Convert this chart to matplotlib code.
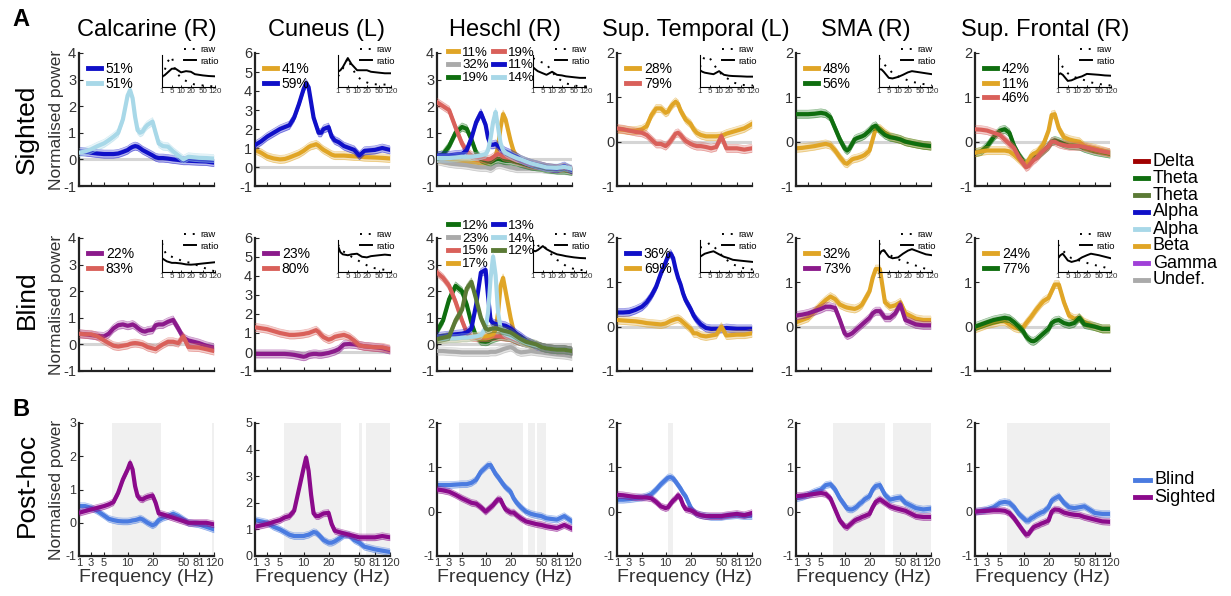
import numpy as np
import matplotlib.pyplot as plt
from matplotlib.lines import Line2D

plt.rcParams['font.family'] = ['Liberation Sans', 'DejaVu Sans']
plt.rcParams['axes.unicode_minus'] = False

# frequency grid (Hz) on which every spectrum below is sampled
freqs = [1, 2, 3, 4, 5, 6, 7, 8, 9, 10, 11, 12, 13, 14, 15, 16, 17, 18, 20, 23, 26, 30, 35, 40, 45, 50, 60, 81, 100, 120]
tick_hz = [1, 3, 5, 10, 20, 50, 81, 120]
tick_at = [0, 0.09, 0.185, 0.36, 0.545, 0.773, 0.888, 1.0]   # axis spacing of the frequency bins
inset_freqs = [1, 2, 3, 5, 7, 10, 15, 20, 30, 50, 80, 120]
inset_ticks = [1, 5, 10, 20, 50, 120]

titles = ['Calcarine (R)', 'Cuneus (L)', 'Heschl (R)', 'Sup. Temporal (L)', 'SMA (R)', 'Sup. Frontal (R)']
ylims_a = [(-1, 4), (-1, 6), (-1, 4), (-1, 2), (-1, 2), (-1, 2)]
ylims_b = [(-1, 3), (0, 5), (-1, 2), (-1, 2), (-1, 2), (-1, 2)]

# ---- A: sighted ----
calc_s_alpha = [.3, .28, .25, .22, .2, .2, .2, .22, .28, .35, .42, .47, .5, .48, .42, .35, .3, .25, .15, .08, .05, .05, .03, 0, -.02, -.05, -.05, -.07, -.08, -.12]
calc_s_alpha2 = [.25, .3, .38, .5, .6, .72, .85, 1.0, 1.5, 2.4, 2.6, 2.3, 1.6, 1.1, 1.0, 1.05, 1.2, 1.3, 1.42, 1.0, .6, .5, .48, .3, .15, 0, .1, .06, .05, .03]
cun_s_beta = [.9, .75, .55, .45, .4, .42, .5, .6, .7, .85, .95, 1.05, 1.12, 1.15, 1.2, 1.12, 1.0, .9, .75, .65, .6, .6, .6, .58, .56, .55, .52, .5, .48, .45]
cun_s_alpha = [1.15, 1.35, 1.6, 1.8, 2.0, 2.1, 2.2, 2.6, 3.3, 4.1, 4.4, 4.2, 3.4, 2.6, 2.2, 1.8, 1.8, 2.0, 2.1, 1.6, 1.4, 1.3, 1.1, 1.0, .9, .6, .85, .9, 1.0, .9]
hes_s_beta = [0, -.02, -.05, -.08, -.1, -.1, -.12, -.12, -.15, -.15, -.1, -.05, 0, .1, .5, 1.2, 1.7, 1.5, .7, .3, .1, 0, -.08, -.15, -.2, -.25, -.3, -.35, -.3, -.4]
hes_s_undef = [-.05, -.1, -.15, -.18, -.2, -.22, -.25, -.28, -.3, -.3, -.32, -.35, -.3, -.22, -.2, -.2, -.22, -.25, -.3, -.32, -.35, -.35, -.35, -.35, -.35, -.35, -.38, -.4, -.42, -.45]
hes_s_theta = [.1, .2, .5, 1.0, 1.22, 1.15, .75, .25, .02, -.05, -.08, -.1, -.05, 0, .02, 0, -.03, -.05, -.05, -.08, -.1, -.15, -.2, -.25, -.28, -.3, -.35, -.4, -.4, -.45]
hes_s_delta = [2.15, 2.0, 1.85, 1.2, .6, .3, .15, .08, .05, .02, 0, .02, .08, .15, .2, .18, .1, .08, .05, 0, -.05, -.08, -.15, -.2, -.22, -.25, -.3, -.35, -.3, -.4]
hes_s_alpha = [.15, .15, .15, .18, .2, .35, .8, 1.4, 1.75, 1.3, .8, .55, .55, .58, .5, .42, .35, .3, .22, .15, .1, 0, -.08, -.15, -.2, -.25, -.3, -.35, -.25, -.4]
hes_s_alpha2 = [.05, .05, .05, .07, .1, .1, .1, .12, .15, .2, .35, .8, 1.4, 1.78, 1.2, .6, .35, .25, .15, .1, .05, 0, -.08, -.15, -.2, -.25, -.3, -.32, -.28, -.35]
supt_s_beta = [.28, .27, .25, .25, .28, .35, .6, .75, .75, .65, .68, .78, .85, .9, .85, .7, .6, .5, .4, .28, .2, .15, .12, .12, .12, .13, .18, .25, .3, .4]
supt_s_delta = [.3, .28, .25, .22, .2, .15, .05, -.05, -.05, -.1, -.05, .02, .1, .18, .2, .15, .08, .02, -.05, -.08, -.1, -.1, -.12, -.15, -.12, .12, -.15, -.15, -.18, -.15]
sma_s_beta = [-.15, -.14, -.12, -.1, -.07, -.05, -.08, -.2, -.35, -.48, -.5, -.45, -.4, -.38, -.37, -.35, -.33, -.3, -.2, .05, .3, .3, .2, .12, .08, .05, 0, -.05, -.08, -.1]
sma_s_theta = [.62, .62, .62, .63, .65, .63, .55, .3, .05, -.15, -.2, -.15, -.05, .05, .08, .1, .12, .15, .25, .33, .36, .25, .15, .1, .08, .05, 0, -.05, -.08, -.1]
supf_s_theta = [-.25, -.22, -.1, .1, .25, .28, .2, -.1, -.3, -.45, -.5, -.45, -.4, -.35, -.32, -.3, -.25, -.2, -.1, 0, .03, 0, -.05, -.08, -.09, -.1, -.15, -.22, -.25, -.28]
supf_s_beta = [-.25, -.22, -.2, -.2, -.2, -.2, -.22, -.3, -.4, -.5, -.5, -.42, -.32, -.27, -.25, -.2, -.12, -.05, .25, .6, .62, .3, .1, .05, .02, 0, -.1, -.15, -.2, -.25]
supf_s_delta = [.28, .27, .25, .2, .15, .05, -.05, -.15, -.35, -.5, -.58, -.55, -.48, -.42, -.38, -.32, -.25, -.2, -.1, 0, 0, -.05, -.08, -.1, -.1, -.1, -.12, -.18, -.22, -.25]

# ---- A: blind ----
calc_b_gamma = [.4, .38, .35, .32, .3, .4, .6, .72, .75, .7, .72, .75, .7, .62, .55, .5, .48, .52, .55, .72, .75, .75, .85, .92, .6, .25, .15, .05, -.05, -.12]
calc_b_delta = [.4, .38, .38, .3, .15, .05, -.05, -.08, -.05, -.02, .02, .04, .05, .04, .02, 0, -.05, -.1, -.15, -.18, -.1, 0, .1, .1, .05, .3, -.1, -.12, -.18, -.25]
cun_b_gamma = [-.1, -.1, -.1, -.1, -.1, -.1, -.12, -.15, -.2, -.25, -.22, -.15, -.12, -.1, -.1, -.12, -.12, -.1, -.05, 0, .05, .15, .4, .42, .4, .35, .3, .25, .2, .1]
cun_b_delta = [1.3, 1.25, 1.2, 1.1, 1.0, .95, .9, .9, .92, .95, .98, 1.0, 1.05, 1.1, 1.15, 1.05, .9, .78, .65, .7, .8, .85, .9, .8, .6, .35, .3, .25, .25, .15]
hes_b_theta = [.5, .9, 1.7, 2.2, 2.0, 1.5, .8, .3, .12, .1, .12, .18, .22, .25, .28, .3, .3, .28, .25, .2, .15, .1, .05, 0, -.05, -.1, -.15, -.2, -.2, -.25]
hes_b_undef = [-.25, -.25, -.27, -.28, -.3, -.3, -.3, -.3, -.3, -.3, -.3, -.28, -.28, -.28, -.25, -.22, -.18, -.15, -.1, -.15, -.25, -.3, -.28, -.25, -.28, -.3, -.33, -.38, -.4, -.45]
hes_b_delta = [2.7, 2.5, 2.2, 1.6, .9, .45, .28, .25, .25, .25, .25, .28, .3, .3, .3, .3, .28, .27, .25, .2, .15, .1, .05, 0, -.05, -.1, -.15, -.2, -.2, -.25]
hes_b_beta = [.2, .2, .22, .22, .25, .25, .28, .3, .3, .3, .32, .35, .4, .55, 1.2, 2.2, 2.5, 2.0, 1.0, .5, .3, .18, .08, 0, -.05, -.1, -.15, -.2, -.2, -.25]
hes_b_alpha = [.3, .32, .35, .38, .4, .45, .6, 1.5, 2.7, 2.8, 1.8, .9, .8, .77, .75, .73, .72, .7, .6, .5, .4, .3, .15, .05, -.05, -.1, -.15, -.2, -.2, -.25]
hes_b_alpha2 = [.2, .2, .22, .22, .25, .25, .28, .3, .35, .6, 1.2, 2.5, 3.3, 2.6, 1.2, .6, .45, .38, .3, .25, .2, .12, .05, 0, -.05, -.1, -.15, -.2, -.2, -.25]
hes_b_theta2 = [.2, .25, .3, .9, 1.3, 2.1, 2.35, 1.7, 1.0, .6, .55, .58, .6, .6, .58, .55, .52, .5, .45, .38, .3, .2, .1, .05, 0, -.1, -.15, -.2, -.2, -.25]
supt_b_alpha = [.32, .32, .33, .38, .45, .55, .7, .9, 1.2, 1.45, 1.6, 1.65, 1.55, 1.3, 1.1, .95, .75, .6, .4, .25, .15, .05, -.03, -.05, -.05, -.05, -.03, -.05, -.05, -.05]
supt_b_beta = [.15, .14, .13, .12, .1, .08, .07, .06, .05, .07, .1, .13, .15, .17, .18, .15, .1, .05, -.05, -.15, -.15, -.2, -.22, -.2, -.18, 0, -.2, -.18, -.18, -.15]
sma_b_beta = [.1, .15, .2, .35, .5, .6, .68, .62, .5, .45, .43, .42, .41, .4, .42, .45, .5, .6, .8, 1.1, 1.3, 1.3, .55, .45, .48, .55, .3, .18, .15, .15]
sma_b_gamma = [.25, .27, .3, .35, .4, .45, .45, .42, .15, -.15, -.2, -.18, -.15, -.1, -.05, 0, .05, .1, .2, .3, .35, .35, .2, .2, .3, .5, .15, .05, .03, .03]
supf_b_beta = [-.05, 0, .05, .08, .12, .12, .05, -.02, -.05, 0, .08, .15, .22, .3, .38, .45, .52, .58, .65, .8, .95, .95, .55, .25, .18, .2, .1, 0, -.05, -.05]
supf_b_theta = [0, .05, .1, .15, .18, .2, .18, .1, 0, -.12, -.22, -.28, -.32, -.33, -.3, -.25, -.2, -.15, -.05, .08, .13, .15, .08, .05, .08, .2, .05, 0, -.05, -.05]

# ---- B: post-hoc, blind vs sighted ----
calc_blind = [.5, .5, .45, .35, .22, .12, .08, .05, .04, .04, .05, .07, .08, .1, .13, .1, .05, 0, -.08, -.03, .08, .15, .2, .27, .2, .1, 0, -.05, -.12, -.2]
calc_sighted = [.3, .35, .4, .45, .5, .55, .62, .9, 1.3, 1.6, 1.8, 1.6, 1.1, .8, .72, .7, .75, .78, .82, .6, .28, .25, .2, .15, .1, .05, 0, 0, 0, -.05]
cun_blind = [1.35, 1.3, 1.25, 1.1, 1.0, .9, .8, .75, .75, .75, .78, .8, .85, .9, .88, .8, .7, .6, .5, .5, .55, .65, .78, .78, .6, .5, .35, .25, .2, .15]
cun_sighted = [1.1, 1.15, 1.2, 1.28, 1.35, 1.45, 1.5, 1.7, 2.5, 3.3, 3.7, 3.2, 2.3, 1.6, 1.5, 1.5, 1.55, 1.6, 1.62, 1.2, .95, .9, .85, .8, .75, .7, .7, .7, .75, .7]
hes_blind = [.6, .6, .6, .61, .62, .62, .65, .72, .9, 1.0, 1.05, 1.05, .95, .85, .78, .7, .62, .55, .45, .3, .2, .1, 0, -.05, -.08, -.1, -.15, -.18, -.1, -.22]
hes_sighted = [.5, .48, .45, .38, .3, .25, .2, .18, .1, 0, .05, .1, .15, .22, .28, .27, .15, .05, -.02, -.02, -.08, -.15, -.22, -.25, -.28, -.3, -.33, -.37, -.3, -.38]
supt_blind = [.27, .27, .28, .3, .32, .35, .4, .5, .62, .72, .77, .78, .75, .68, .6, .52, .42, .35, .1, 0, -.05, -.08, -.1, -.12, -.12, -.12, -.1, -.08, -.1, -.1]
supt_sighted = [.38, .37, .35, .33, .32, .32, .3, .22, .12, .08, .1, .18, .25, .3, .37, .3, .15, .06, .03, 0, -.05, -.08, -.1, -.1, -.1, -.1, -.08, -.05, -.08, -.03]
sma_blind = [.3, .33, .38, .45, .5, .6, .62, .5, .3, .15, .07, .05, .05, .08, .12, .18, .22, .28, .35, .5, .58, .6, .38, .27, .3, .32, .2, .08, .05, .07]
sma_sighted = [.35, .36, .38, .4, .42, .4, .3, .05, -.2, -.33, -.35, -.3, -.25, -.2, -.17, -.15, -.12, -.1, -.05, .1, .22, .28, .2, .12, .08, .05, .02, -.1, -.12, -.12]
supf_blind = [0, .02, .05, .1, .2, .22, .2, .1, -.05, -.15, -.2, -.2, -.15, -.12, -.08, -.05, -.02, 0, .1, .25, .3, .35, .2, .1, .08, .1, .12, -.03, -.05, -.05]
supf_sighted = [0, .01, .02, .03, .03, .02, -.03, -.15, -.3, -.45, -.52, -.5, -.42, -.35, -.32, -.3, -.27, -.25, -.2, 0, .05, .04, -.02, -.05, -.07, -.08, -.12, -.18, -.22, -.23]

# significant frequency ranges (Hz) in B
sig_ranges = [[(6.8, 28), (115, 120)],
              [(5.8, 32), (50, 56), (63, 120)],
              [(4.6, 32), (37, 44), (46, 59)],
              [(11, 13)],
              [(7.6, 35), (43, 120)],
              [(6.4, 53), (54, 120)]]

# insets: raw spectrum and ratio (normalised 0..1)
ins_raw_s = [[.3, .5, .8, 1.0, .5, .3, .2, .12, .08, .05, .03, .02],
             [.35, .45, .6, .95, .65, .35, .22, .15, .1, .08, .08, .08],
             [.95, .9, .85, .8, .75, .5, .3, .2, .12, .05, .02, .02],
             [.65, .85, 1.0, .95, .75, .5, .35, .25, .15, .08, .05, .05],
             [.95, .85, .75, .6, .45, .35, .28, .22, .17, .12, .08, .05],
             [.95, .8, .65, .45, .35, .3, .25, .2, .15, .1, .07, .05]]
ins_ratio_s = [[.35, .38, .45, .6, .6, .48, .52, .5, .42, .38, .36, .35],
               [.5, .55, .65, .95, .75, .55, .55, .55, .5, .47, .45, .45],
               [.65, .58, .52, .45, .4, .5, .4, .38, .35, .32, .3, .3],
               [.55, .5, .47, .44, .42, .52, .4, .37, .36, .35, .34, .34],
               [.58, .58, .5, .3, .28, .33, .4, .48, .52, .48, .45, .42],
               [.4, .45, .4, .2, .22, .3, .35, .43, .42, .4, .38, .37]]
ins_raw_b = [[.95, .7, .55, .5, .45, .38, .33, .3, .25, .15, .08, .02],
             [.9, .75, .68, .6, .5, .4, .3, .22, .15, .1, .07, .05],
             [.9, .75, .85, .9, .75, .55, .4, .3, .2, .1, .07, .05],
             [.8, .82, .85, .95, .85, .65, .45, .35, .25, .15, .1, .08],
             [.95, .8, .7, .6, .5, .42, .35, .3, .25, .17, .1, .05],
             [.9, .8, .7, .55, .45, .4, .35, .3, .25, .2, .15, .08]]
ins_ratio_b = [[.45, .4, .35, .3, .3, .28, .25, .24, .25, .28, .3, .32],
               [.85, .65, .58, .55, .58, .6, .5, .48, .52, .55, .57, .55],
               [.7, .68, .72, .85, .75, .65, .58, .55, .52, .48, .46, .45],
               [.5, .55, .6, .65, .68, .58, .5, .45, .4, .37, .35, .33],
               [.55, .68, .72, .5, .45, .48, .6, .7, .75, .65, .58, .55],
               [.45, .55, .6, .38, .33, .38, .48, .55, .6, .55, .5, .45]]

col = {'delta': '#d9605a', 'theta': '#0f6e0f', 'theta2': '#5b7a35', 'alpha': '#1010c8',
       'alpha2': '#a8d8e8', 'beta': '#e0a526', 'gamma': '#8b1a8b', 'undef': '#aaaaaa'}
blind_c = '#4a7be0'
sighted_c = '#8b0a8b'

sighted = [
    [(calc_s_alpha, 'alpha', '51%'), (calc_s_alpha2, 'alpha2', '51%')],
    [(cun_s_beta, 'beta', '41%'), (cun_s_alpha, 'alpha', '59%')],
    [(hes_s_beta, 'beta', '11%'), (hes_s_undef, 'undef', '32%'), (hes_s_theta, 'theta', '19%'),
     (hes_s_delta, 'delta', '19%'), (hes_s_alpha, 'alpha', '11%'), (hes_s_alpha2, 'alpha2', '14%')],
    [(supt_s_beta, 'beta', '28%'), (supt_s_delta, 'delta', '79%')],
    [(sma_s_beta, 'beta', '48%'), (sma_s_theta, 'theta', '56%')],
    [(supf_s_theta, 'theta', '42%'), (supf_s_beta, 'beta', '11%'), (supf_s_delta, 'delta', '46%')],
]
blind = [
    [(calc_b_gamma, 'gamma', '22%'), (calc_b_delta, 'delta', '83%')],
    [(cun_b_gamma, 'gamma', '23%'), (cun_b_delta, 'delta', '80%')],
    [(hes_b_theta, 'theta', '12%'), (hes_b_undef, 'undef', '23%'), (hes_b_delta, 'delta', '15%'),
     (hes_b_beta, 'beta', '17%'), (hes_b_alpha, 'alpha', '13%'), (hes_b_alpha2, 'alpha2', '14%'),
     (hes_b_theta2, 'theta2', '12%')],
    [(supt_b_alpha, 'alpha', '36%'), (supt_b_beta, 'beta', '69%')],
    [(sma_b_beta, 'beta', '32%'), (sma_b_gamma, 'gamma', '73%')],
    [(supf_b_beta, 'beta', '24%'), (supf_b_theta, 'theta', '77%')],
]
posthoc = [(calc_blind, calc_sighted), (cun_blind, cun_sighted), (hes_blind, hes_sighted),
           (supt_blind, supt_sighted), (sma_blind, sma_sighted), (supf_blind, supf_sighted)]


def to_axis(f):
    return np.interp(f, tick_hz, tick_at)


def from_axis(p):
    return np.interp(p, tick_at, tick_hz)


W, H = 1231, 596
fig = plt.figure(figsize=(W / 100, H / 100), dpi=100)
lefts = [79, 255, 437, 617, 796, 975]
aw = 135
row_top = [53, 238, 423]
ah = 133


def px_axes(x, top, w, h):
    return fig.add_axes([x / W, 1 - (top + h) / H, w / W, h / H])


def style(ax, ylim, labels, ysize, xsize=8):
    ax.set_xscale('function', functions=(to_axis, from_axis))
    ax.set_xlim(1, 120)
    ax.set_ylim(*ylim)
    ax.set_xticks(tick_hz)
    ax.set_xticklabels([str(t) for t in tick_hz] if labels else [])
    ax.set_yticks(range(ylim[0], ylim[1] + 1))
    ax.spines['top'].set_visible(False)
    ax.spines['right'].set_visible(False)
    for s in ['left', 'bottom']:
        ax.spines[s].set_color('#222222')
        ax.spines[s].set_linewidth(1.6)
    ax.tick_params(direction='in', length=3, width=0.8, color='#222222', labelcolor='#333333', pad=2)
    ax.tick_params(axis='y', labelsize=ysize)
    ax.tick_params(axis='x', labelsize=xsize, pad=1.5)
    ax.patch.set_alpha(0)


def curve(ax, y, c, err, z):
    y = np.array(y)
    ax.fill_between(freqs, y - err, y + err, color=c, alpha=0.3, lw=0, zorder=z)
    ax.plot(freqs, y - err, color=c, lw=0.5, alpha=0.5, zorder=z)
    ax.plot(freqs, y + err, color=c, lw=0.5, alpha=0.5, zorder=z)
    ax.plot(freqs, y, color=c, lw=3.0, zorder=z + 0.5)


def inset(x0, top, raw, ratio):
    ia = px_axes(x0, top, 53, 32)
    ia.set_xscale('function', functions=(to_axis, from_axis))
    ia.set_xlim(1, 120)
    ia.set_ylim(0, 1.05)
    ia.plot(inset_freqs, raw, color='k', lw=1.4, ls=(0, (1, 3.5)), label='raw')
    ia.plot(inset_freqs, ratio, color='k', lw=1.4, label='ratio')
    ia.set_xticks(inset_ticks)
    ia.set_xticklabels([str(t) for t in inset_ticks])
    ia.set_yticks([])
    ia.spines['top'].set_visible(False)
    ia.spines['right'].set_visible(False)
    ia.spines['left'].set_linewidth(0.8)
    ia.spines['bottom'].set_linewidth(0.8)
    ia.tick_params(direction='in', length=1.5, width=0.6, labelsize=5.8, pad=1, labelcolor='#333333')
    ia.patch.set_alpha(0)
    ia.legend(loc='upper right', bbox_to_anchor=(1.08, 1.3), frameon=False, fontsize=6.8,
              handlelength=1.3, handletextpad=0.5, labelspacing=0.25, borderpad=0, borderaxespad=0)


for r, rows in enumerate([sighted, blind]):
    for i, panel in enumerate(rows):
        ax = px_axes(lefts[i], row_top[r], aw, ah)
        ylim = ylims_a[i]
        style(ax, ylim, False, 10.5)
        ax.axhline(0, color='#d5d5d5', lw=2.2, zorder=1)
        err = 0.03 * (ylim[1] - ylim[0])
        for k, (vals, band, lab) in enumerate(panel):
            curve(ax, vals, col[band], err, 2 + k)
        handles = [Line2D([], [], color=col[b], lw=3.5) for _, b, _ in panel]
        labels = [lab for _, _, lab in panel]
        if len(panel) > 3:
            ax.legend(handles, labels, ncol=2, loc='upper left',
                      bbox_to_anchor=(0.08, 1.05 if r == 0 else 1.14), frameon=False, fontsize=9.5,
                      handlelength=0.8, handletextpad=0.3, labelspacing=0.05, columnspacing=0.3,
                      borderpad=0, borderaxespad=0)
        else:
            ax.legend(handles, labels, loc='upper left', bbox_to_anchor=(0.07, 0.93), frameon=False,
                      fontsize=10, handlelength=0.9, handletextpad=0.35, labelspacing=0.02,
                      borderpad=0, borderaxespad=0)
        if i == 0:
            ax.set_ylabel('Normalised power', fontsize=12.5, color='#333333')
            ax.yaxis.set_label_coords(-0.11, 0.5)
        shift = 13 if i == 2 else 0
        raw = ins_raw_s[i] if r == 0 else ins_raw_b[i]
        ratio = ins_ratio_s[i] if r == 0 else ins_ratio_b[i]
        inset(lefts[i] + aw - 52 + shift, row_top[r] + 2, raw, ratio)

for i, (bl, si) in enumerate(posthoc):
    ax = px_axes(lefts[i], row_top[2], aw, ah)
    ylim = ylims_b[i]
    style(ax, ylim, True, 9, 8)
    for a, b in sig_ranges[i]:
        ax.axvspan(a, b, color='#f0f0f0', lw=0, zorder=0)
    err = 0.025 * (ylim[1] - ylim[0])
    curve(ax, bl, blind_c, err, 2)
    curve(ax, si, sighted_c, err, 3)
    ax.set_xlabel('Frequency (Hz)', fontsize=14, color='#333333', labelpad=1)
    if i == 0:
        ax.set_ylabel('Normalised power', fontsize=12.5, color='#333333')
        ax.yaxis.set_label_coords(-0.11, 0.5)

title_dx = [0, 4, 0, 11, 2, 3]
for i, t in enumerate(titles):
    fig.text((lefts[i] + aw / 2 + title_dx[i]) / W, 1 - 30 / H, t, ha='center', va='center', fontsize=17)

for lab, y in [('Sighted', 129), ('Blind', 300), ('Post-hoc', 485)]:
    fig.text(27 / W, 1 - y / H, lab, rotation=90, ha='center', va='center', fontsize=19)

fig.text(12 / W, 1 - 19 / H, 'A', fontsize=17, fontweight='bold', va='center')
fig.text(12 / W, 1 - 410 / H, 'B', fontsize=17, fontweight='bold', va='center')

# frequency band key
band_names = ['Delta', 'Theta', 'Theta', 'Alpha', 'Alpha', 'Beta', 'Gamma', 'Undef.']
band_cols = ['#a00000', '#0f6e0f', '#5b7a35', '#1010c8', '#a8d8e8', '#e0a526', '#a040d8', '#aaaaaa']
for k, (n, c) in enumerate(zip(band_names, band_cols)):
    y = 1 - (161 + 17 * k) / H
    fig.add_artist(Line2D([1135 / W, 1148 / W], [y, y], color=c, lw=3.5))
    fig.text(1153 / W, y, n, va='center', fontsize=13)

for k, (n, c) in enumerate([('Blind', blind_c), ('Sighted', sighted_c)]):
    y = 1 - (480 + 17 * k) / H
    fig.add_artist(Line2D([1135 / W, 1150 / W], [y, y], color=c, lw=3.5))
    fig.text(1154 / W, y, n, va='center', fontsize=13)

fig.savefig('out.png', dpi=100)
